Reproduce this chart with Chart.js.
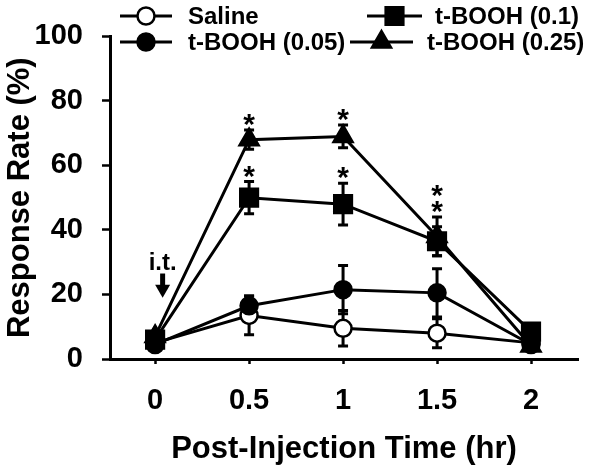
<!DOCTYPE html>
<html>
<head>
<meta charset="utf-8">
<script src="https://cdn.jsdelivr.net/npm/chart.js@4/dist/chart.umd.min.js"></script>
<style>
  html, body { margin: 0; padding: 0; background: #fff; }
  #wrap { width: 600px; height: 467px; }
</style>
</head>
<body>
<div id="wrap"><canvas id="chart" width="600" height="467"></canvas></div>
<script>
"use strict";

// 時間 (hr)
const xValues = [0, 0.5, 1, 1.5, 2];
const yTicks = [0, 20, 40, 60, 80, 100];
const seriesNames = ["Saline", "t-BOOH (0.05)", "t-BOOH (0.1)", "t-BOOH (0.25)"];

// 平均値と誤差 (%)
const salineMean = [5, 13.5, 9.5, 8, 5];
const salineErr = [1.5, 6, 5.5, 4.5, 1];
const booh005Mean = [4.5, 16.5, 21.5, 20.5, 4.5];
const booh005Err = [1, 3, 7.5, 7.5, 1];
const booh01Mean = [6, 50, 48, 36.5, 8.5];
const booh01Err = [1, 5, 6.5, 4.5, 1];
const booh025Mean = [7, 68, 69, 38, 4];
const booh025Err = [1, 3, 3.5, 6, 1];

// 有意差マーク (*)
const starX = [0.5, 1, 0.5, 1, 1.5];
const starSeries = [3, 3, 2, 2, 3];
const starCount = [1, 1, 1, 1, 2];

// i.t. 注記
const itX = 0.04;
const itLabelY = 29.7;
const itArrowTop = 26.5;
const itArrowTip = 19;

const FONT = "'Liberation Sans', Arial, sans-serif";
const means = [salineMean, booh005Mean, booh01Mean, booh025Mean];
const errs = [salineErr, booh005Err, booh01Err, booh025Err];
const pointStyles = ["circle", "circle", "rect", "triangle"];
const pointFills = ["#fff", "#000", "#000", "#000"];
const pointRadii = [8.5, 8.5, 12.5, 11];
const drawOrder = [4, 3, 1, 2]; // Saline を一番下に

const datasets = seriesNames.map((name, i) => ({
  label: name,
  data: xValues.map((x, j) => ({ x: x, y: means[i][j] })),
  order: drawOrder[i],
  borderColor: "#000",
  borderWidth: 3,
  pointStyle: pointStyles[i],
  pointRadius: pointRadii[i],
  pointBackgroundColor: pointFills[i],
  pointBorderColor: "#000",
  pointBorderWidth: 2.5,
  tension: 0
}));

// エラーバー（データ描画の前）
const errorBars = {
  id: "errorBars",
  beforeDatasetsDraw(chart) {
    const { ctx, scales: { x, y } } = chart;
    ctx.save();
    ctx.strokeStyle = "#000";
    ctx.lineWidth = 3;
    means.forEach((m, i) => {
      xValues.forEach((xv, j) => {
        const px = x.getPixelForValue(xv);
        const top = y.getPixelForValue(m[j] + errs[i][j]);
        const bot = y.getPixelForValue(m[j] - errs[i][j]);
        ctx.beginPath();
        ctx.moveTo(px, top); ctx.lineTo(px, bot);
        ctx.moveTo(px - 5, top); ctx.lineTo(px + 5, top);
        ctx.moveTo(px - 5, bot); ctx.lineTo(px + 5, bot);
        ctx.stroke();
      });
    });
    ctx.restore();
  }
};

// 凡例・アスタリスク・i.t. 矢印
const extras = {
  id: "extras",
  afterDatasetsDraw(chart) {
    const { ctx, scales: { x, y } } = chart;
    ctx.save();
    ctx.fillStyle = "#000";
    ctx.strokeStyle = "#000";

    // asterisks
    ctx.font = "bold 30px " + FONT;
    ctx.textAlign = "center";
    ctx.textBaseline = "alphabetic";
    starX.forEach((xv, k) => {
      const j = xValues.indexOf(xv);
      const s = starSeries[k];
      const px = x.getPixelForValue(xv);
      let cy = y.getPixelForValue(means[s][j] + errs[s][j]) - 14;
      for (let c = 0; c < starCount[k]; c++) {
        ctx.fillText("*", px, cy + 18);
        cy -= 16;
      }
    });

    // i.t. arrow
    const ax = x.getPixelForValue(itX);
    ctx.font = "bold 24px " + FONT;
    ctx.textBaseline = "middle";
    ctx.fillText("i.t.", ax, y.getPixelForValue(itLabelY));
    const aTop = y.getPixelForValue(itArrowTop);
    const aTip = y.getPixelForValue(itArrowTip);
    ctx.fillRect(ax - 2.5, aTop, 5, (aTip - aTop) - 12);
    ctx.beginPath();
    ctx.moveTo(ax - 7.5, aTip - 13);
    ctx.lineTo(ax + 7.5, aTip - 13);
    ctx.lineTo(ax, aTip);
    ctx.closePath();
    ctx.fill();

    // legend
    const items = [
      { i: 0, x0: 120, x1: 172, row: 16, tx: 188 },
      { i: 2, x0: 367, x1: 422, row: 16, tx: 435 },
      { i: 1, x0: 120, x1: 172, row: 42, tx: 188 },
      { i: 3, x0: 350, x1: 413, row: 42, tx: 427 }
    ];
    ctx.font = "bold 24px " + FONT;
    ctx.textAlign = "left";
    ctx.textBaseline = "middle";
    items.forEach(it => {
      ctx.lineWidth = 3;
      ctx.beginPath();
      ctx.moveTo(it.x0, it.row);
      ctx.lineTo(it.x1, it.row);
      ctx.stroke();
      const ds = chart.data.datasets[it.i];
      ctx.fillStyle = pointFills[it.i];
      ctx.lineWidth = 2.5;
      Chart.helpers.drawPoint(ctx, {
        pointStyle: ds.pointStyle,
        radius: pointRadii[it.i],
        borderWidth: 2.5
      }, (it.x0 + it.x1) / 2, it.row);
      ctx.fillStyle = "#000";
      ctx.fillText(seriesNames[it.i], it.tx, it.row + 1);
    });
    ctx.restore();
  }
};

new Chart(document.getElementById("chart"), {
  type: "line",
  data: { datasets: datasets },
  options: {
    responsive: false,
    animation: false,
    layout: { padding: { top: 31, right: 22, left: 0, bottom: 0 } },
    plugins: { legend: { display: false }, tooltip: { enabled: false } },
    scales: {
      x: {
        type: "linear",
        min: -0.24,
        max: 2.25,
        afterBuildTicks: axis => { axis.ticks = xValues.map(v => ({ value: v })); },
        afterFit: axis => { axis.height = 108; },
        grid: { drawOnChartArea: false, drawTicks: true, tickLength: 5, tickWidth: 2.5, tickColor: "#000" },
        border: { display: true, color: "#000", width: 3 },
        ticks: { color: "#000", padding: 20, font: { family: FONT, size: 29, weight: "bold" }, maxRotation: 0,
          callback: v => String(v) },
        title: { display: true, text: "Post-Injection Time (hr)", color: "#000", padding: { top: 0, bottom: 0 },
          font: { family: FONT, size: 31, weight: "bold", lineHeight: 1.1 } }
      },
      y: {
        min: 0,
        max: 100,
        afterBuildTicks: axis => { axis.ticks = yTicks.map(v => ({ value: v })); },
        afterFit: axis => { axis.width = 110; },
        grid: { drawOnChartArea: false, drawTicks: true, tickLength: 8, tickWidth: 2.5, tickColor: "#000" },
        border: { display: true, color: "#000", width: 3 },
        ticks: { color: "#000", padding: 19, font: { family: FONT, size: 29, weight: "bold" } },
        title: { display: true, text: "Response Rate (%)", color: "#000", padding: { top: 2, bottom: 0 },
          font: { family: FONT, size: 31, weight: "bold" } }
      }
    }
  },
  plugins: [errorBars, extras]
});
</script>
</body>
</html>
